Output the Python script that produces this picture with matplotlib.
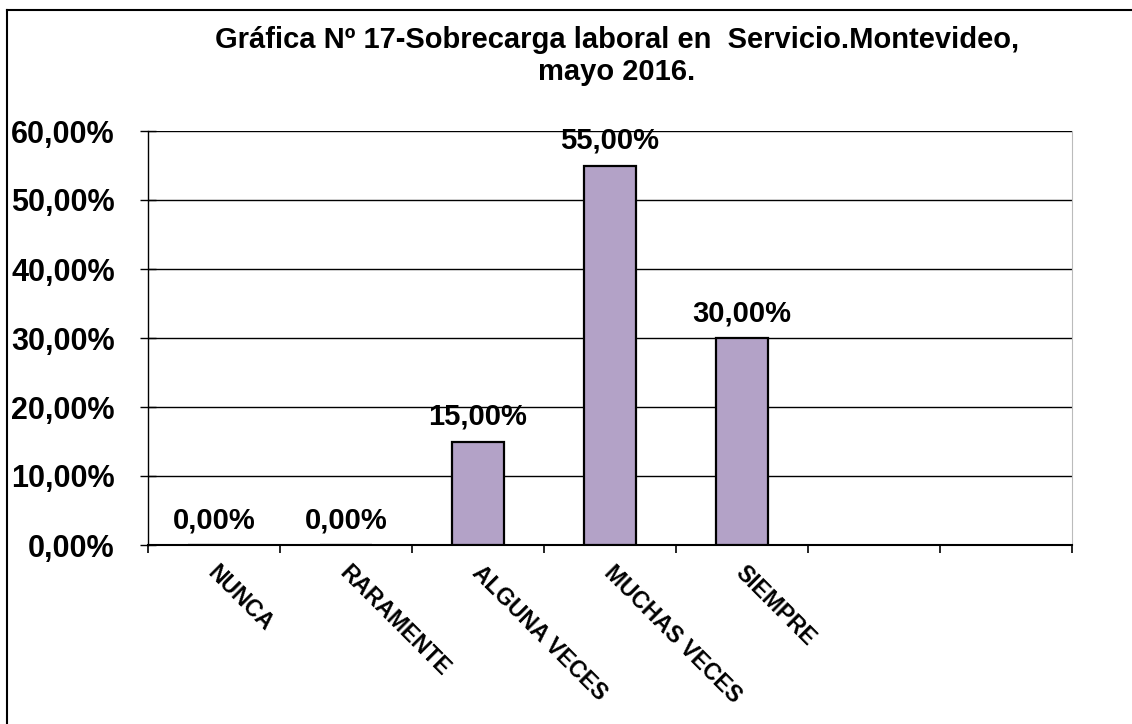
import matplotlib
matplotlib.use("Agg")
import matplotlib.pyplot as plt
from matplotlib.lines import Line2D

plt.rcParams['font.family'] = ['Liberation Sans', 'DejaVu Sans']
plt.rcParams['font.weight'] = 'bold'

categorias = ["NUNCA", "RARAMENTE", "ALGUNA VECES", "MUCHAS VECES", "SIEMPRE", "", ""]
valores = [0.0, 0.0, 15.0, 55.0, 30.0]
yticks = [0, 10, 20, 30, 40, 50, 60]
titulo = "Gráfica Nº 17-Sobrecarga laboral en  Servicio.Montevideo,\nmayo 2016."

fig = plt.figure(figsize=(11.32, 7.24), dpi=100)
ax = fig.add_axes([148/1132, 1-545/724, (1072-148)/1132, (545-131)/724])

x = list(range(len(valores)))
ax.bar(x, valores, width=0.39, color="#b3a2c7", edgecolor="black", linewidth=1.6, zorder=3)

for xi, v in zip(x, valores):
    ax.annotate(f"{v:.2f}%".replace(".", ","), (xi, v), xytext=(0, 12), textcoords="offset points",
                ha="center", va="baseline", fontsize=21, fontweight="bold")

ax.set_xlim(-0.5, len(categorias) - 0.5)
ax.set_ylim(0, 60)
ax.set_yticks(yticks)
ax.set_yticklabels([f"{t:.2f}%".replace(".", ",") for t in yticks], fontsize=22, fontweight="bold")
ax.yaxis.grid(True, color="black", linewidth=1)
ax.set_axisbelow(True)

ax.set_xticks([i - 0.5 for i in range(len(categorias) + 1)])
ax.set_xticklabels([])
ax.tick_params(axis="x", length=6, width=1.2, direction="out")
ax.tick_params(axis="y", length=12, width=1, direction="inout", pad=18)
for i, c in enumerate(categorias):
    ax.text(i + 0.04, -2.4, c, rotation=-45, rotation_mode="anchor", ha="left", va="top",
            fontsize=16.5, fontweight="bold")

ax.spines["top"].set_visible(False)
ax.spines["right"].set_color("#bbbbbb")
ax.spines["left"].set_linewidth(1)
ax.spines["bottom"].set_linewidth(1.5)

fig.text(617/1132, 1-56/724, titulo, ha="center", va="center", fontsize=21, fontweight="bold",
         linespacing=1.15)

fig.add_artist(Line2D([7/1132, 7/1132], [0, 1-10/724], transform=fig.transFigure, color="black", linewidth=1.5))
fig.add_artist(Line2D([7/1132, 1], [1-10/724, 1-10/724], transform=fig.transFigure, color="black", linewidth=1.5))

fig.savefig("out.png", dpi=100)
